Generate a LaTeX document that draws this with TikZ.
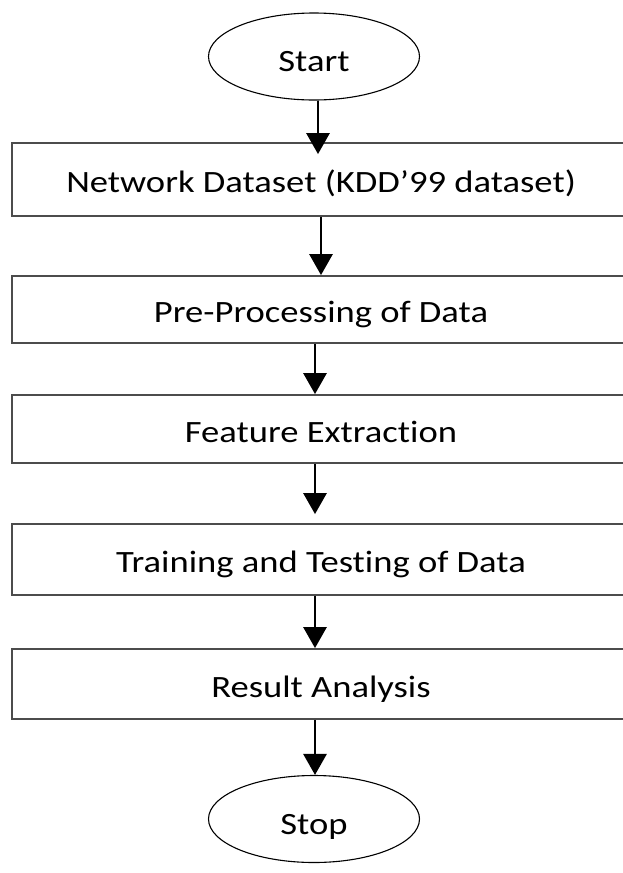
\documentclass[tikz,border=0pt]{standalone}
\usepackage{fontspec}
\setmainfont{Carlito}[Ligatures=NoCommon, FakeStretch=1.18]
\usetikzlibrary{arrows.meta,shapes.geometric}

\tikzset{
  stepbox/.style={draw=black!70, line width=1.8pt, rectangle, minimum width=618pt, inner sep=0pt, text height=26pt, text depth=0pt, font=\fontsize{31}{36}\selectfont},
  termbox/.style={draw=black, line width=1.1pt, ellipse, minimum width=211pt, minimum height=87pt, inner sep=0pt, text height=30pt, text depth=0pt, font=\fontsize{31}{36}\selectfont},
  flow/.style={line width=2.8pt, -{Triangle[width=23pt,length=21pt]}}
}

\begin{document}
\begin{tikzpicture}[x=1pt,y=-1pt]

\useasboundingbox (0,0) rectangle (622,873);

\node[termbox] (start) at (314,56.5) {Start};

\node[stepbox, minimum height=73pt] (net) at (321,179.5) {Network Dataset (KDD’99 dataset)};

\node[stepbox, minimum height=67pt] (prep) at (321,309.5) {Pre-Processing of Data};

\node[stepbox, minimum height=68pt] (feat) at (321,429) {Feature Extraction};

\node[stepbox, minimum height=71pt] (train) at (321,559.5) {Training and Testing of Data};

\node[stepbox, minimum height=70pt] (res) at (321,684) {Result Analysis};

\node[termbox] (stop) at (314,819) {Stop};

\draw[flow, shorten >=-12pt] ([xshift=4pt]start.south) -- ([xshift=4pt]start.south |- net.north);
\draw[flow] ([xshift=7pt]start.south |- net.south) -- ([xshift=7pt]start.south |- prep.north);
\draw[flow] ([xshift=1pt]start.south |- prep.south) -- ([xshift=1pt]start.south |- feat.north);
\draw[flow, shorten >=9pt] ([xshift=1pt]start.south |- feat.south) -- ([xshift=1pt]start.south |- train.north);
\draw[flow] ([xshift=1pt]start.south |- train.south) -- ([xshift=1pt]start.south |- res.north);
\draw[flow] ([xshift=1pt]start.south |- res.south) -- ([xshift=1pt]stop.north);

\end{tikzpicture}
\end{document}
